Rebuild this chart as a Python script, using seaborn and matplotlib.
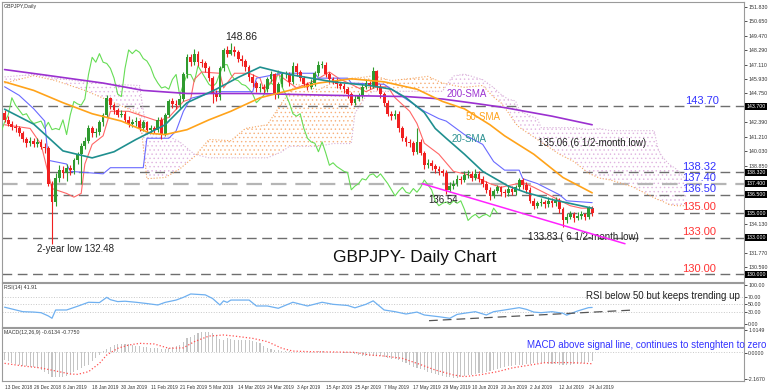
import numpy as np
import pandas as pd
import seaborn as sns
import matplotlib.pyplot as plt
from matplotlib.transforms import ScaledTranslation

sns.set_style('white')
plt.rcParams['font.family'] = ['Liberation Sans', 'DejaVu Sans']
plt.rcParams['hatch.linewidth'] = 0.5

# ---- daily candles, 13 Dec 2018 .. 26 Jul 2019 (one value per bar) ----
first_open = 143.2
closes = [142.6, 142.3, 142.0, 141.9, 141.5, 141.0, 140.7, 140.9, 140.6, 140.8,
          140.4, 140.3, 137.4, 135.9, 137.9, 138.5, 138.3, 138.7, 138.5, 139.3,
          139.8, 140.5, 140.9, 141.9, 141.5, 141.6, 142.4, 143.0, 144.4, 143.8,
          143.4, 143.0, 143.1, 142.6, 142.3, 142.4, 142.5, 141.9, 142.4, 141.8,
          141.9, 141.8, 142.6, 141.4, 143.0, 144.1, 143.9, 143.8, 144.3, 146.3,
          147.7, 147.3, 148.0, 147.3, 147.2, 146.8, 146.0, 144.7, 144.5, 146.8,
          148.3, 148.0, 148.3, 148.1, 147.6, 147.4, 146.9, 146.1, 145.6, 145.2,
          145.3, 145.1, 145.9, 146.3, 144.6, 145.5, 146.3, 146.3, 145.7, 147.0,
          146.5, 146.0, 145.5, 145.3, 145.6, 146.4, 147.1, 147.1, 146.3, 145.9,
          145.8, 145.5, 145.4, 145.1, 144.7, 144.0, 144.3, 144.6, 145.3, 145.6,
          145.4, 146.6, 145.3, 144.7, 144.0, 143.1, 142.9, 143.1, 141.9, 141.1,
          140.8, 140.7, 140.0, 140.8, 139.9, 138.9, 139.1, 138.8, 138.6, 138.4,
          138.3, 136.9, 137.2, 137.4, 137.8, 137.7, 138.1, 138.2, 137.9, 138.2,
          137.8, 137.4, 136.9, 136.4, 136.8, 137.1, 136.7, 136.6, 137.0, 136.7,
          137.1, 137.7, 137.3, 136.9, 136.0, 135.6, 135.8, 135.9, 135.7, 136.0,
          135.8, 136.0, 135.3, 134.4, 134.7, 134.9, 134.6, 134.8, 134.9, 134.7,
          135.4, 135.0]
highs = [143.4, 142.9, 142.5, 142.3, 142.1, 141.7, 141.2, 141.2, 141.1, 141.1,
         141.0, 140.7, 140.5, 137.6, 138.3, 138.9, 138.8, 139.0, 138.9, 139.5,
         140.0, 140.7, 141.2, 142.2, 142.1, 141.9, 142.6, 143.2, 144.6, 144.5,
         144.0, 143.6, 143.4, 143.3, 142.9, 142.7, 142.8, 142.7, 142.6, 142.5,
         142.2, 142.1, 142.8, 142.8, 143.2, 144.3, 144.4, 144.2, 144.6, 146.5,
         148.0, 148.0, 148.4, 148.2, 147.6, 147.4, 147.0, 146.2, 145.0, 147.0,
         148.5, 148.6, 148.86, 148.6, 148.3, 147.9, 147.6, 147.1, 146.3, 145.8,
         145.6, 145.5, 146.1, 146.6, 146.4, 145.7, 146.5, 146.6, 146.5, 147.3,
         147.2, 146.7, 146.2, 145.7, 145.9, 146.6, 147.4, 147.4, 147.3, 146.5,
         146.1, 146.0, 145.7, 145.6, 145.3, 144.9, 144.6, 144.8, 145.5, 145.9,
         145.8, 146.9, 146.7, 145.5, 144.9, 144.2, 143.3, 143.4, 143.3, 142.1,
         141.3, 141.0, 140.9, 141.9, 141.0, 140.1, 139.4, 139.3, 139.0, 138.8,
         138.6, 138.5, 137.5, 137.7, 138.1, 138.0, 138.4, 138.5, 138.4, 138.6,
         138.4, 138.0, 137.6, 137.1, 137.0, 137.3, 137.2, 137.0, 137.3, 137.2,
         137.3, 137.9, 137.9, 137.5, 137.1, 136.2, 136.0, 136.2, 136.1, 136.3,
         136.2, 136.3, 136.2, 135.5, 135.0, 135.2, 135.1, 135.1, 135.2, 135.0,
         135.6, 135.6]
lows = [142.4, 142.1, 141.8, 141.6, 141.3, 140.8, 140.4, 140.5, 140.4, 140.4,
        140.2, 139.9, 137.2, 132.48, 135.6, 137.5, 137.9, 137.6, 138.1, 138.2,
        139.0, 137.4, 140.2, 140.7, 141.2, 141.2, 141.4, 142.1, 142.8, 143.5,
        143.1, 142.8, 142.8, 142.4, 142.0, 142.0, 142.1, 141.7, 141.7, 141.5,
        141.5, 141.5, 141.6, 141.0, 141.3, 142.8, 143.6, 143.5, 143.6, 144.1,
        146.0, 147.0, 147.1, 147.0, 146.9, 146.5, 145.8, 144.0, 144.1, 144.2,
        146.6, 147.7, 147.9, 147.8, 147.3, 147.0, 146.6, 145.8, 145.3, 144.9,
        144.9, 144.8, 144.9, 145.7, 144.3, 144.4, 145.3, 146.0, 145.4, 145.5,
        146.2, 145.8, 145.3, 145.0, 145.1, 145.4, 146.2, 146.8, 146.1, 145.6,
        145.5, 145.2, 145.1, 144.8, 144.4, 143.8, 143.8, 144.1, 144.4, 145.1,
        145.1, 145.2, 145.0, 144.4, 143.7, 142.9, 142.6, 142.7, 141.6, 140.9,
        140.5, 140.4, 139.7, 139.8, 139.7, 138.6, 138.7, 138.5, 138.3, 138.1,
        138.0, 136.54, 136.7, 137.0, 137.2, 137.4, 137.5, 137.9, 137.6, 137.7,
        137.5, 137.1, 136.6, 136.1, 136.2, 136.6, 136.4, 136.3, 136.4, 136.5,
        136.5, 136.9, 137.0, 136.6, 135.8, 135.3, 135.4, 135.6, 135.4, 135.5,
        135.5, 135.6, 135.0, 133.83, 134.2, 134.5, 134.3, 134.4, 134.5, 134.4,
        134.5, 134.8]

# ---- indicator lines (bar index, value) ----
sma20_bars = [0, 8, 16, 24, 30, 36, 44, 50, 58, 64, 70, 78, 90, 100, 106, 110,
              115, 118, 121, 126, 131, 138, 143, 150, 161]
sma20 = [143.47, 142.25, 140.07, 139.5, 140.0, 141.0, 142.2, 144.0, 145.1, 146.06,
         146.9, 146.3, 145.7, 145.4, 145.1, 144.4, 143.2, 141.9, 141.1, 139.8,
         138.4, 137.2, 136.66, 136.1, 135.4]
sma50_bars = [0, 8, 16, 24, 32, 40, 44, 50, 56, 62, 70, 78, 86, 95, 104, 113,
              120, 126, 133, 137, 145, 153, 161]
sma50 = [145.7, 145.0, 144.0, 143.1, 142.5, 141.5, 141.4, 141.8, 142.6, 143.3,
         144.4, 145.0, 145.6, 145.95, 145.7, 145.1, 144.1, 143.5, 142.2, 141.3,
         139.8, 137.9, 136.65]
sma200_bars = [0, 10, 27, 38, 50, 68, 90, 110, 120, 130, 137, 150, 161]
sma200 = [146.7, 146.3, 145.6, 145.0, 144.75, 144.75, 144.6, 144.5, 144.3, 143.9,
          143.6, 142.9, 142.2]

tenkan_bars = [0, 7, 10, 13, 17, 19, 21, 22, 24, 27, 29, 34, 38, 42, 45, 49, 51,
               52, 54, 59, 60, 63, 67, 70, 71, 75, 80, 85, 89, 92, 95, 99, 102,
               105, 107, 111, 113, 115, 119, 123, 126, 130, 133, 136, 142, 145,
               151, 155, 158, 161]
tenkan = [142.2, 141.9, 140.6, 137.0, 136.6, 136.3, 136.6, 139.0, 140.6, 141.3,
          143.3, 143.3, 142.9, 142.5, 142.8, 144.1, 144.3, 145.9, 146.5, 146.4,
          145.2, 146.4, 146.4, 146.0, 145.1, 146.3, 145.2, 145.8, 146.5, 145.9,
          145.5, 144.9, 145.3, 145.3, 144.4, 143.3, 142.3, 140.7, 139.8, 138.4,
          138.2, 137.8, 137.4, 137.1, 137.5, 137.1, 136.2, 135.6, 135.4, 135.4]
kijun_bars = [0, 4, 8, 11, 12, 17, 18, 27, 29, 38, 39, 45, 47, 48, 49, 51, 58,
              68, 69, 76, 85, 86, 94, 95, 104, 107, 111, 115, 119, 121, 126,
              131, 134, 137, 141, 142, 146, 152, 154, 161]
kijun = [145.3, 144.6, 143.5, 142.5, 139.3, 139.0, 138.4, 138.2, 138.7, 138.7,
         141.1, 141.1, 141.7, 142.5, 143.3, 144.35, 144.9, 144.9, 146.0, 146.4,
         146.4, 146.0, 146.0, 145.6, 145.5, 144.9, 144.1, 143.3, 142.7, 142.5,
         141.4, 140.6, 139.2, 138.5, 138.5, 137.8, 137.4, 136.5, 136.0, 135.85]

cloud_bars = [0, 8, 14, 22, 30, 37, 39, 44, 48, 52, 56, 62, 66, 72, 76, 78, 80,
              86, 90, 95, 96, 99, 101, 106, 112, 116, 120, 122, 123, 126, 131,
              134, 136, 138, 140, 141, 143, 146, 147, 152, 156, 160, 163, 166,
              172, 178, 179, 180, 182, 184, 186, 187]
span_a = [145.6, 146.2, 145.8, 145.0, 144.0, 143.1, 137.8, 137.9, 138.6, 139.6,
          141.0, 140.9, 141.9, 142.2, 144.0, 144.8, 145.5, 145.05, 145.65, 146.0,
          146.0, 146.1, 146.2, 145.8, 146.0, 146.15, 145.6, 145.5, 145.4, 145.25,
          145.4, 144.45, 144.0, 143.2, 142.3, 142.0, 141.6, 141.0, 140.8, 139.8,
          139.2, 138.25, 137.85, 137.7, 137.15, 136.25, 136.1, 136.0, 135.7,
          135.6, 135.6, 135.6]
span_b = [146.1, 146.3, 146.0, 145.7, 145.5, 145.4, 141.4, 141.4, 140.8, 139.8,
          139.5, 139.5, 139.5, 139.5, 140.0, 140.44, 140.44, 140.44, 140.67, 140.67,
          143.13, 144.53, 144.93, 144.93, 144.93, 144.93, 144.93, 145.83, 146.18,
          146.33, 145.88, 145.23, 144.68, 144.28, 144.15, 143.45, 143.05, 142.7,
          141.97, 141.97, 141.97, 141.8, 141.9, 141.72, 141.72, 141.72, 140.27,
          139.67, 139.0, 138.6, 137.97, 137.57]

rsi_bars = [0, 2, 5, 8, 10, 12, 13, 14, 17, 20, 23, 26, 28, 29, 31, 33, 36, 39,
            42, 44, 47, 49, 51, 55, 57, 59, 60, 61, 62, 67, 69, 72, 75, 79, 83,
            87, 90, 94, 95, 96, 99, 101, 104, 107, 110, 113, 115, 119, 122, 124,
            126, 129, 132, 134, 137, 141, 143, 145, 147, 150, 153, 154, 157,
            160, 161]
rsi = [42.6, 38, 31, 30, 28.4, 20, 14, 35.4, 35.4, 45, 55.3, 54.5, 68, 62, 57,
       58, 55.3, 52, 48.3, 55, 61, 68, 76.7, 74.4, 65, 48.3, 58.9, 55, 61, 61,
       45.7, 45.7, 39.8, 55.3, 45.7, 55.3, 50, 47, 44, 41, 50, 58.9, 35.4, 31,
       25, 30, 22.5, 18, 14, 24, 27, 31, 22.5, 31, 35.4, 41.4, 37, 30, 28.4, 31,
       27, 22, 32.8, 41.4, 41.9]

macd_hist = [-0.54, -0.62, -0.70, -0.78, -0.86, -0.90, -0.93, -0.96, -1.00, -1.05,
             -1.15, -1.29, -1.45, -1.61, -1.62, -1.63, -1.62, -1.58, -1.45, -1.30,
             -1.18, -1.05, -0.95, -0.86, -0.62, -0.40, -0.18, 0.02, 0.18, 0.32,
             0.45, 0.50, 0.52, 0.50, 0.48, 0.44, 0.40, 0.36, 0.32, 0.28,
             0.24, 0.22, 0.22, 0.20, 0.20, 0.22, 0.30, 0.36, 0.43, 0.62,
             0.86, 0.98, 1.10, 1.19, 1.25, 1.29, 1.27, 1.19, 1.05, 0.80,
             0.75, 0.86, 0.84, 0.78, 0.76, 0.75, 0.75, 0.74, 0.68, 0.60,
             0.54, 0.38, 0.22, 0.16, 0.12, 0.10, 0.07, 0.04, 0.02, 0.00,
             0.01, 0.00, 0.00, -0.02, -0.01, 0.00, 0.02, 0.03, 0.00, -0.02,
             -0.01, -0.03, -0.05, -0.06, -0.08, -0.10, -0.16, -0.22, -0.30, -0.29,
             -0.27, -0.26, -0.28, -0.30, -0.32, -0.40, -0.46, -0.50, -0.54, -0.64,
             -0.75, -0.86, -0.97, -1.05, -1.12, -1.20, -1.29, -1.35, -1.42, -1.50,
             -1.56, -1.61, -1.66, -1.70, -1.72, -1.66, -1.57, -1.53, -1.49, -1.45,
             -1.40, -1.35, -1.29, -1.24, -1.18, -1.10, -1.03, -0.97, -0.94, -0.91,
             -0.88, -0.86, -0.83, -0.80, -0.78, -0.76, -0.75, -0.75, -0.76, -0.77,
             -0.78, -0.80, -0.83, -0.86, -0.86, -0.84, -0.82, -0.80, -0.75, -0.70,
             -0.64, -0.61]
signal_bars = [0, 5, 10, 15, 18, 20, 23, 26, 28, 31, 34, 37, 41, 45, 49, 52, 56,
               60, 63, 68, 72, 76, 79, 84, 91, 96, 100, 104, 109, 113, 118, 123,
               126, 130, 135, 139, 144, 148, 154, 157, 161]
signal = [-0.75, -0.92, -1.05, -1.29, -1.44, -1.46, -1.29, -0.75, -0.21, 0.22,
          0.43, 0.54, 0.50, 0.22, 0.25, 0.65, 1.01, 1.08, 1.01, 0.86, 0.65, 0.22,
          0.04, 0.0, -0.02, -0.04, -0.21, -0.28, -0.43, -0.75, -1.18, -1.50,
          -1.61, -1.50, -1.29, -1.05, -0.86, -0.71, -0.70, -0.72, -0.775]

levels = [143.70, 138.32, 137.40, 136.50, 135.00, 133.00, 130.00]
level_colors = ['#3333ff', '#3333ff', '#3333ff', '#3333ff', '#ff3333', '#ff3333', '#ff3333']

date_labels = ['13 Dec 2018', '26 Dec 2018', '8 Jan 2019', '18 Jan 2019', '30 Jan 2019',
               '11 Feb 2019', '21 Feb 2019', '5 Mar 2019', '14 Mar 2019', '24 Mar 2019',
               '3 Apr 2019', '15 Apr 2019', '25 Apr 2019', '7 May 2019', '17 May 2019',
               '29 May 2019', '10 Jun 2019', '20 Jun 2019', '2 Jul 2019', '12 Jul 2019',
               '24 Jul 2019']

opens = [first_open] + closes[:-1]
df = pd.DataFrame({'bar': np.arange(len(closes)), 'open': opens, 'high': highs,
                   'low': lows, 'close': closes})

fig = plt.figure(figsize=(7.68, 3.92), dpi=100)
ax = fig.add_axes([2 / 768, 1 - 282 / 392, 742 / 768, 280 / 392])
ax_rsi = fig.add_axes([2 / 768, 1 - 327 / 392, 742 / 768, 44 / 392])
ax_macd = fig.add_axes([2 / 768, 1 - 381 / 392, 742 / 768, 53 / 392])
xlim = (-0.7, 202.6)
small = 3.8

# Ichimoku cloud (dotted fill)
cl = pd.DataFrame({'bar': cloud_bars, 'a': span_a, 'b': span_b})
ax.fill_between(cl['bar'], cl['a'], cl['b'], where=cl['a'] >= cl['b'], interpolate=True,
                facecolor='none', edgecolor='#f7b07a', hatch='....', lw=0, zorder=1)
ax.fill_between(cl['bar'], cl['a'], cl['b'], where=cl['a'] < cl['b'], interpolate=True,
                facecolor='none', edgecolor='#e0b4e0', hatch='....', lw=0, zorder=1)
sns.lineplot(x=cl['bar'], y=cl['a'], ax=ax, color='#f4a460', lw=0.8, ls=':', zorder=2)
sns.lineplot(x=cl['bar'], y=cl['b'], ax=ax, color='#d8b0d8', lw=0.8, ls=':', zorder=2)

# horizontal levels
for lvl in levels:
    grey = '#b5b5b5' if lvl == 137.40 else '#6e6e6e'
    ax.axhline(lvl, color=grey, lw=1.6 if lvl == 137.40 else 1.0, dashes=(7, 4), zorder=1.5)

# chikou span, tenkan, kijun
sns.lineplot(x=df['bar'] - 26, y=df['close'], ax=ax, color='#66dd55', lw=0.8, zorder=3)
sns.lineplot(x=tenkan_bars, y=tenkan, ax=ax, color='#ff6666', lw=0.8, zorder=3)
sns.lineplot(x=kijun_bars, y=kijun, ax=ax, color='#6a6aff', lw=0.8, zorder=3)

# candles
up = df['close'] >= df['open']
for mask, col in [(up, '#2f9a2f'), (~up, '#f02020')]:
    d = df[mask]
    ax.vlines(d['bar'], d['low'], d['high'], color=col, lw=0.8, zorder=4)
    ax.bar(d['bar'], (d['close'] - d['open']).abs().clip(lower=0.05),
           bottom=np.minimum(d['open'], d['close']), width=0.75, color=col, lw=0, zorder=4)

# moving averages
sns.lineplot(x=sma200_bars, y=sma200, ax=ax, color='#9b30d0', lw=1.2, zorder=5)
sns.lineplot(x=sma50_bars, y=sma50, ax=ax, color='#ffa31a', lw=1.2, zorder=5)
sns.lineplot(x=sma20_bars, y=sma20, ax=ax, color='#1f8f8f', lw=1.2, zorder=5)

# falling channel line
ax.plot([114.4, 170.0], [137.4, 132.5], color='#ff22ff', lw=1.1, zorder=5)

ax.set_xlim(*xlim)
ax.set_ylim(129.38, 152.21)
ticks = [130.59 + 1.18 * k for k in range(19)]
ticks = [t for t in ticks if min(abs(t - lv) for lv in levels) > 0.35]
ax.set_yticks(ticks)
ax.set_yticklabels([f'{t:.3f}' for t in ticks])
ax.set_xticks([])

# level boxes on the price scale + labels in the chart
for lvl, col in zip(levels, level_colors):
    ax.text(1.003, lvl, f'{lvl:.3f}', transform=ax.get_yaxis_transform(), fontsize=small,
            color='white', va='center', ha='left', clip_on=False, zorder=10,
            bbox=dict(boxstyle='square,pad=0.2', fc='black', ec='none'))
    x_lab = 186.5 if lvl == 143.70 else 185.6
    ax.text(x_lab, lvl + 0.05, f'{lvl:.2f}', color=col, fontsize=8, va='bottom', ha='left',
            zorder=6)

ax.text(64.8, 149.38, '148.86', fontsize=7.5, ha='center', va='center', color='#222')
ax.text(8.9, 132.05, '2-year low 132.48', fontsize=7, ha='left', va='center', color='#222')
ax.text(121.2, 144.67, '200-SMA', fontsize=7, ha='left', va='center', color='#9b30d0')
ax.text(126.2, 142.8, '50-SMA', fontsize=7, ha='left', va='center', color='#ffa31a')
ax.text(122.6, 141.04, '20-SMA', fontsize=7, ha='left', va='center', color='#2a9090')
ax.text(146.2, 140.71, '135.06 (6 1/2-month low)', fontsize=7, ha='left', va='center', color='#222')
ax.text(116.0, 136.1, '136.54', fontsize=7, ha='left', va='center', color='#222')
ax.text(143.4, 133.08, '133.83 ( 6 1/2-month low)', fontsize=7, ha='left', va='center', color='#222')
ax.text(90.0, 131.4, 'GBPJPY- Daily Chart', fontsize=12.5, ha='left', va='center', color='#111')
ax.text(0.003, 0.992, 'GBPJPY,Daily', transform=ax.transAxes, fontsize=small, va='top', color='#333')

# RSI panel
for v in [70, 50, 30]:
    ax_rsi.axhline(v, color='#c8c8c8', lw=0.7, ls=':')
sns.lineplot(x=rsi_bars, y=rsi, ax=ax_rsi, color='#6fb0f0', lw=0.9)
ax_rsi.plot([116.3, 172.5], [7.8, 35.4], color='#555555', lw=0.9, dashes=(7, 4))
ax_rsi.set_xlim(*xlim)
ax_rsi.set_ylim(-8.5, 105)
ax_rsi.set_yticks([100, 70, 50, 30, 0])
ax_rsi.set_yticklabels(['100.00', '70.00', '50.00', '30.00', '0.00'])
ax_rsi.set_xticks([])
ax_rsi.text(0.003, 0.96, 'RSI(14) 41.91', transform=ax_rsi.transAxes, fontsize=small,
            va='top', color='#333')
ax_rsi.text(159.3, 71.6, 'RSI below 50 but keeps trending up', fontsize=7, ha='left',
            va='center', color='#222')

# MACD panel
ax_macd.axhline(0, color='#c8c8c8', lw=0.7, ls=':')
ax_macd.bar(df['bar'], macd_hist, width=0.3, color='#c4c4c4', lw=0)
sns.lineplot(x=signal_bars, y=signal, ax=ax_macd, color='#ff5050', lw=0.9, ls=':')
ax_macd.set_xlim(*xlim)
ax_macd.set_ylim(-1.89, 1.53)
ax_macd.set_yticks([1.40, -0.065, -1.78])
ax_macd.set_yticklabels(['1.0149', '0.0000', '-2.1670'])
ax_macd.text(0.003, 0.96, 'MACD(12,26,9) -0.6134 -0.7750', transform=ax_macd.transAxes,
             fontsize=small, va='top', color='#333')
ax_macd.text(143.2, 0.43, 'MACD above signal line, continues to stenghten to zero', fontsize=7,
             ha='left', va='center', color='#3333ff')
ax_macd.set_xticks(np.arange(0, 161, 8))
ax_macd.set_xticklabels(date_labels, ha='left')
shift = ScaledTranslation(-3.5 / 100, 0, fig.dpi_scale_trans)
for lbl in ax_macd.get_xticklabels():
    lbl.set_transform(lbl.get_transform() + shift)

for a in [ax, ax_rsi, ax_macd]:
    a.yaxis.tick_right()
    a.tick_params(axis='y', labelsize=small, length=2, width=0.6, pad=1, colors='#333333')
    a.tick_params(axis='x', labelsize=3.4, length=2, width=0.6, pad=1, colors='#333333')
    for s in a.spines.values():
        s.set_color('#9a9a9a')
        s.set_linewidth(0.8)
    a.set_xlabel('')
    a.set_ylabel('')

fig.savefig('out.png', dpi=100)
